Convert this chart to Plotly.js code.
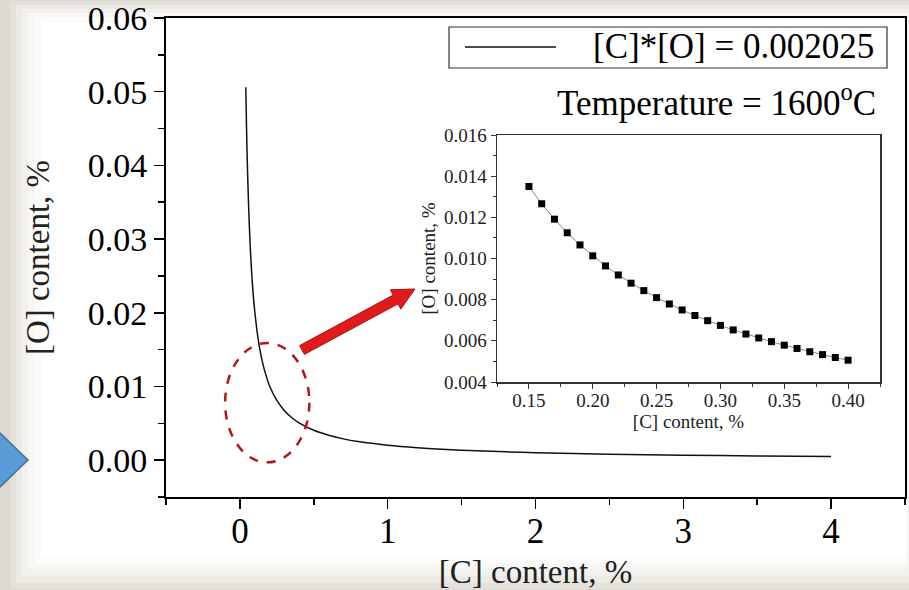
<!DOCTYPE html>
<html><head><meta charset="utf-8">
<script src="https://cdn.plot.ly/plotly-3.0.1.min.js"></script>
<style>html,body{margin:0;padding:0;background:#dcdad0;} #chart{width:909px;height:590px;}</style>
</head><body><div id="chart"></div>
<script>
// ---- data ----
const mainC = [0.04, 0.045, 0.05, 0.06, 0.07, 0.08, 0.09, 0.10, 0.12, 0.14, 0.16, 0.18, 0.20, 0.25, 0.30, 0.35, 0.40, 0.50, 0.60, 0.70, 0.80, 1.0, 1.2, 1.4, 1.6, 1.8, 2.0, 2.5, 3.0, 3.5, 4.0];
const mainO = [0.0506, 0.0450, 0.0405, 0.0338, 0.0289, 0.0253, 0.0225, 0.0203, 0.0169, 0.0145, 0.0127, 0.0113, 0.0101, 0.0081, 0.00675, 0.00579, 0.00506, 0.00405, 0.00338, 0.00289, 0.00253, 0.00203, 0.00169, 0.00145, 0.00127, 0.00113, 0.00101, 0.00081, 0.00068, 0.00058, 0.00051];
const insetC = [0.15, 0.16, 0.17, 0.18, 0.19, 0.20, 0.21, 0.22, 0.23, 0.24, 0.25, 0.26, 0.27, 0.28, 0.29, 0.30, 0.31, 0.32, 0.33, 0.34, 0.35, 0.36, 0.37, 0.38, 0.39, 0.40];
const insetO = [0.0135, 0.01266, 0.01191, 0.01125, 0.01066, 0.01013, 0.00964, 0.00920, 0.00880, 0.00844, 0.00810, 0.00779, 0.00750, 0.00723, 0.00698, 0.00675, 0.00653, 0.00633, 0.00614, 0.00596, 0.00579, 0.00563, 0.00547, 0.00533, 0.00519, 0.00506];
const legendLabel = "[C]*[O] = 0.002025";
const tempLabel = "Temperature = 1600<sup>o</sup>C";
const mainXTitle = "[C] content, %";
const mainYTitle = "[O] content, %";
const insetXTitle = "[C] content, %";
const insetYTitle = "[O] content, %";

// ---- helpers ----
const W = 909, H = 590;
const fx = x => x / W, fy = y => 1 - y / H;
const FONT = "Liberation Serif, Times New Roman, serif";
const poly = pts => 'M ' + pts.map(p => fx(p[0]).toFixed(5) + ',' + fy(p[1]).toFixed(5)).join(' L ') + ' Z';

const traces = [
  {x: mainC, y: mainO, xaxis: 'x', yaxis: 'y', mode: 'lines', line: {color: '#111', width: 1.5, shape: 'spline', smoothing: 0.6}, showlegend: false, name: legendLabel},
  {x: insetC, y: insetO, xaxis: 'x2', yaxis: 'y2', mode: 'lines+markers', line: {color: '#8a8a8a', width: 1}, marker: {symbol: 'square', size: 7, color: '#000'}, showlegend: false}
];

// frame (soft white panel on grey)
const frameSteps = [
  [10, 1, 909, 589, 0.2], [16, 5, 909, 583, 0.3], [22, 9, 909, 576, 0.35],
  [28, 13, 908, 569, 0.45], [35, 17, 907, 563, 0.6], [42, 22, 905, 557, 1.0]
];
const shapes = frameSteps.map(s => ({type: 'rect', xref: 'paper', yref: 'paper', layer: 'below',
  x0: fx(s[0]), x1: fx(s[2]), y0: fy(s[3]), y1: fy(s[1]), line: {width: 0}, fillcolor: 'rgba(255,255,255,' + s[4] + ')'}));

// legend box
shapes.push({type: 'rect', xref: 'paper', yref: 'paper', x0: fx(449), x1: fx(887), y0: fy(68), y1: fy(27), line: {color: '#333', width: 1.2}, fillcolor: 'rgba(0,0,0,0)'});
shapes.push({type: 'line', xref: 'paper', yref: 'paper', x0: fx(465), x1: fx(556), y0: fy(47), y1: fy(47), line: {color: '#111', width: 1.5}});
// red dashed ellipse
shapes.push({type: 'circle', xref: 'x', yref: 'y', x0: -0.10, x1: 0.47, y0: -0.0003, y1: 0.0159, line: {color: '#b5141a', width: 2.5, dash: 'dash'}});
// red arrow
shapes.push({type: 'path', xref: 'paper', yref: 'paper', path: poly([[299.6,345.6],[393.2,295.05],[390.4,289.8],[415,289],[400.8,309.1],[398.0,303.85],[304.4,354.4]]), fillcolor: '#e01b1b', line: {color: '#b01010', width: 1}});
// blue arrow at left edge
shapes.push({type: 'path', xref: 'paper', yref: 'paper', path: poly([[-2,431],[28,460],[-2,489]]), fillcolor: '#5b9bd5', line: {color: '#41719c', width: 1.5}});

const annotations = [
  {xref: 'paper', yref: 'paper', x: fx(876), y: fy(47), xanchor: 'right', yanchor: 'middle', text: legendLabel, showarrow: false, font: {family: FONT, size: 35, color: '#000'}},
  {xref: 'paper', yref: 'paper', x: fx(878), y: fy(100), xanchor: 'right', yanchor: 'middle', text: tempLabel, showarrow: false, font: {family: FONT, size: 35, color: '#000'}}
];

const layout = {
  width: W, height: H,
  margin: {l: 0, r: 0, t: 0, b: 0},
  paper_bgcolor: '#dcdad0',
  plot_bgcolor: '#ffffff',
  showlegend: false,
  font: {family: FONT, color: '#000'},
  xaxis: {
    domain: [fx(166), fx(905)], anchor: 'y', range: [-0.5, 4.5],
    tick0: 0, dtick: 1, tickformat: 'd',
    ticks: 'outside', ticklen: 10, tickwidth: 1.5, tickcolor: '#000',
    minor: {dtick: 0.5, tick0: 0, ticks: 'outside', ticklen: 6, tickwidth: 1.5, tickcolor: '#000'},
    showline: true, mirror: true, linecolor: '#000', linewidth: 2,
    showgrid: false, zeroline: false,
    ticklabeloverflow: 'allow',
    ticklabelstandoff: -8,
    tickfont: {family: FONT, size: 35, color: '#000'},
    title: {text: mainXTitle, font: {family: FONT, size: 33, color: '#222'}, standoff: 10}
  },
  yaxis: {
    domain: [fy(497), fy(18)], anchor: 'x', range: [-0.005, 0.06],
    tick0: 0, dtick: 0.01, tickformat: '.2f',
    ticks: 'outside', ticklen: 10, tickwidth: 1.5, tickcolor: '#000',
    minor: {dtick: 0.005, tick0: 0, ticks: 'outside', ticklen: 6, tickwidth: 1.5, tickcolor: '#000'},
    showline: true, mirror: true, linecolor: '#000', linewidth: 2,
    showgrid: false, zeroline: false,
    ticklabeloverflow: 'allow',
    tickfont: {family: FONT, size: 34, color: '#000'},
    title: {text: mainYTitle, font: {family: FONT, size: 33, color: '#222'}, standoff: 28}
  },
  xaxis2: {
    domain: [fx(497), fx(880)], anchor: 'y2', range: [0.125, 0.425],
    tick0: 0.15, dtick: 0.05, tickformat: '.2f',
    ticks: 'outside', ticklen: 5, tickwidth: 1, tickcolor: '#333',
    minor: {dtick: 0.025, tick0: 0.125, ticks: 'outside', ticklen: 3, tickwidth: 1, tickcolor: '#333'},
    showline: true, mirror: true, linecolor: '#333', linewidth: 1.5,
    showgrid: false, zeroline: false,
    ticklabeloverflow: 'allow',
    ticklabelstandoff: -4,
    tickfont: {family: FONT, size: 19, color: '#222'},
    title: {text: insetXTitle, font: {family: FONT, size: 19, color: '#222'}, standoff: 3}
  },
  yaxis2: {
    domain: [fy(382), fy(135)], anchor: 'x2', range: [0.004, 0.016],
    tick0: 0.004, dtick: 0.002, tickformat: '.3f',
    ticks: 'outside', ticklen: 5, tickwidth: 1, tickcolor: '#333',
    minor: {dtick: 0.001, tick0: 0.004, ticks: 'outside', ticklen: 3, tickwidth: 1, tickcolor: '#333'},
    showline: true, mirror: true, linecolor: '#333', linewidth: 1.5,
    showgrid: false, zeroline: false,
    ticklabeloverflow: 'allow',
    tickfont: {family: FONT, size: 19, color: '#222'},
    title: {text: insetYTitle, font: {family: FONT, size: 19, color: '#222'}, standoff: 3}
  },
  shapes: shapes,
  annotations: annotations
};

Plotly.newPlot('chart', traces, layout, {displayModeBar: false, staticPlot: true});
</script>
</body></html>
